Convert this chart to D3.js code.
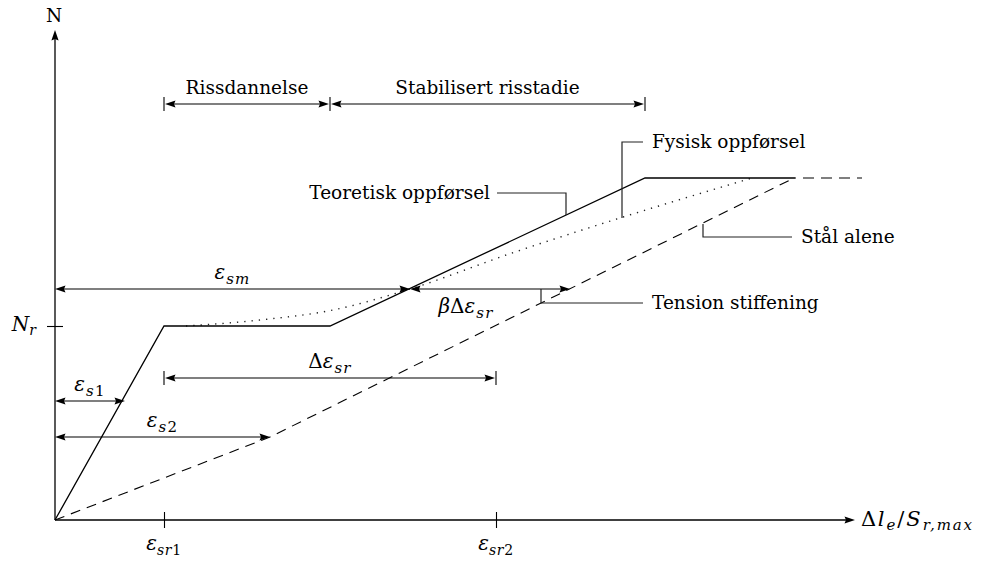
<!DOCTYPE html>
<html><head><meta charset="utf-8">
<script src="https://cdn.jsdelivr.net/npm/d3@7"></script>
<style>
body{margin:0;background:#fff}
svg{display:block}
text{font-family:"DejaVu Serif","Liberation Serif",serif;fill:#000}
</style>
</head><body>
<svg id="c" width="987" height="569"></svg>
<script>
// ---- data (diagram units) ----
const theoretical = [[0,0],[109,194],[275,194],[590,342],[740,342]];
const steelAlone = [[0,0],[215,83],[735,340]];
const steelExtension = [[740,342],[807,342]];
const physical = [[131,194],[205,200],[278,210],[355,231],[460,268],[565,302],[697,342]];
const xTicks = [{sub:"sr1", value:109},{sub:"sr2", value:441}];
const yTicks = [{sub:"r", value:194}];
const phases = [{name:"Rissdannelse", from:109, to:275},{name:"Stabilisert risstadie", from:275, to:590}];
const phaseLevel = 416;
const dims = [
  {sub:"sm", pre:"", from:0, to:355, level:231, bars:false, below:false},
  {sub:"sr", pre:"βΔ", from:355, to:515, level:231, bars:false, below:true},
  {sub:"sr", pre:"Δ", from:109, to:441, level:142, bars:true, below:false},
  {sub:"s1", pre:"", from:0, to:70, level:119, bars:false, below:false},
  {sub:"s2", pre:"", from:0, to:215, level:83, bars:false, below:false}
];
const callouts = [
  {text:"Teoretisk oppførsel", at:[511,305], dy:-22, dx:-69, side:"left"},
  {text:"Fysisk oppførsel", at:[567,302], dy:-76, dx:21, side:"right"},
  {text:"Stål alene", at:[648,296], dy:13, dx:89, side:"right"},
  {text:"Tension stiffening", at:[486,231], dy:14, dx:102, side:"right"}
];

// ---- scales ----
const svg = d3.select("#c");
const x = d3.scaleLinear().domain([0,800]).range([55,855]);
const y = d3.scaleLinear().domain([0,490]).range([520,30]);
const FS = 18.5, MFS = 20, SFS = 15;

function arrowHead(g, tx, ty, dir){
  let p;
  if(dir==='up') p = `M${tx},${ty} L${tx-3.6},${ty+10.5} L${tx},${ty+9} L${tx+3.6},${ty+10.5} Z`;
  else p = `M${tx},${ty} L${tx-dir*10.5},${ty-3.6} L${tx-dir*9},${ty} L${tx-dir*10.5},${ty+3.6} Z`;
  g.append("path").attr("d",p).attr("fill","#000");
}
function subText(t, s){
  const parts = s.match(/[a-z,]+|\d+/g);
  parts.forEach(p=>t.append("tspan").style("font-style",/\d/.test(p)?"normal":"italic").text(p));
}
function math(g, px, py, pre, main, sub, anchor){
  const t = g.append("text").attr("x",px).attr("y",py).attr("text-anchor",anchor||"middle").style("font-size",MFS+"px");
  if(pre){
    for(const ch of pre){
      t.append("tspan").style("font-style", ch==="β"?"italic":"normal").text(ch);
    }
  }
  t.append("tspan").style("font-style","italic").style("letter-spacing","1px").text(main);
  if(sub){
    const s = t.append("tspan").attr("dy",5).style("font-size",SFS+"px").style("letter-spacing","1.2px");
    subText(s, sub);
  }
  return t;
}

// ---- axes ----
const ax = svg.append("g");
ax.append("line").attr("x1",x(0)).attr("y1",y(0)).attr("x2",x(800)-8).attr("y2",y(0)).attr("stroke","#000").attr("stroke-width",1.3);
arrowHead(ax, x(800), y(0), 1);
ax.append("line").attr("x1",x(0)).attr("y1",y(0)).attr("x2",x(0)).attr("y2",y(490)+8).attr("stroke","#000").attr("stroke-width",1.3);
arrowHead(ax, x(0), y(490), 'up');

const xAxis = d3.axisBottom(x).tickValues(xTicks.map(d=>d.value)).tickSize(16).tickFormat("");
const gx = svg.append("g").attr("transform",`translate(0,${y(0)-8})`).call(xAxis);
gx.select(".domain").remove();
gx.selectAll(".tick line").attr("stroke","#000").attr("stroke-width",1.1);
const yAxis = d3.axisLeft(y).tickValues(yTicks.map(d=>d.value)).tickSize(16).tickFormat("");
const gy = svg.append("g").attr("transform",`translate(${x(0)+8},0)`).call(yAxis);
gy.select(".domain").remove();
gy.selectAll(".tick line").attr("stroke","#000").attr("stroke-width",1.1);

xTicks.forEach(d=>{
  const t = svg.append("text").attr("x",x(d.value)).attr("y",y(0)+30).attr("text-anchor","middle").style("font-size",MFS+"px");
  t.append("tspan").style("font-style","italic").text("ε");
  const s = t.append("tspan").attr("dy",5).style("font-size","14px").style("letter-spacing","0.6px");
  subText(s, d.sub);
});
yTicks.forEach(d=>{
  const t = svg.append("text").attr("x",x(0)-19).attr("y",y(d.value)+5).attr("text-anchor","end").style("font-size","20px");
  t.append("tspan").style("font-style","italic").text("N");
  t.append("tspan").attr("dy",4).style("font-size","14px").style("font-style","italic").text(d.sub);
});
svg.append("text").attr("x",x(0)-1).attr("y",22).attr("text-anchor","middle").style("font-size",FS+"px").text("N");
{
  const t = svg.append("text").attr("x",x(800)+6).attr("y",y(0)+6).style("font-size","21px");
  t.append("tspan").style("letter-spacing","1.5px").text("Δ");
  t.append("tspan").style("font-style","italic").style("letter-spacing","2px").text("l");
  t.append("tspan").attr("dy",4).style("font-size","15px").style("font-style","italic").style("letter-spacing","2px").text("e");
  t.append("tspan").attr("dy",-4).style("letter-spacing","2px").text("/");
  t.append("tspan").style("font-style","italic").style("letter-spacing","2px").text("S");
  t.append("tspan").attr("dy",4).style("font-size","15px").style("font-style","italic").style("letter-spacing","1.8px").text("r,max");
}

// ---- curves ----
const line = d3.line().x(d=>x(d[0])).y(d=>y(d[1]));
svg.append("path").attr("d",line(steelAlone)).attr("fill","none").attr("stroke","#000").attr("stroke-width",1.1).attr("stroke-dasharray","10,7");
svg.append("path").attr("d",line(steelExtension)).attr("fill","none").attr("stroke","#000").attr("stroke-width",1.1).attr("stroke-dasharray","11,7").attr("stroke-dashoffset",-8);
svg.append("path").attr("d",d3.line().x(d=>x(d[0])).y(d=>y(d[1])).curve(d3.curveMonotoneX)(physical))
  .attr("fill","none").attr("stroke","#222").attr("stroke-width",1.4).attr("stroke-dasharray","1.3,6");
svg.append("path").attr("d",line(theoretical)).attr("fill","none").attr("stroke","#000").attr("stroke-width",1.3);

// ---- phase dimension arrows ----
const py0 = y(phaseLevel);
const bnds = [phases[0].from, ...phases.map(p=>p.to)];
bnds.forEach(b=>svg.append("line").attr("x1",x(b)).attr("x2",x(b)).attr("y1",py0-7).attr("y2",py0+7).attr("stroke","#000").attr("stroke-width",1.1));
phases.forEach(p=>{
  const a = x(p.from)+1, b = x(p.to)-1;
  svg.append("line").attr("x1",a+8).attr("x2",b-8).attr("y1",py0).attr("y2",py0).attr("stroke","#000").attr("stroke-width",1.2);
  arrowHead(svg,a,py0,-1); arrowHead(svg,b,py0,1);
  svg.append("text").attr("x",(x(p.from)+x(p.to))/2).attr("y",py0-10).attr("text-anchor","middle").style("font-size",FS+"px").text(p.name);
});

// ---- measurement arrows ----
dims.forEach(d=>{
  const a = x(d.from), b = x(d.to), yy = y(d.level);
  svg.append("line").attr("x1",a+8).attr("x2",b-8).attr("y1",yy).attr("y2",yy).attr("stroke","#000").attr("stroke-width",1.2);
  arrowHead(svg,a+(d.bars?1:0),yy,-1); arrowHead(svg,b-(d.bars?1:0),yy,1);
  if(d.bars){
    [a,b].forEach(v=>svg.append("line").attr("x1",v).attr("x2",v).attr("y1",yy-7).attr("y2",yy+7).attr("stroke","#000").attr("stroke-width",1.1));
  }
  const cx = d.below ? a + (b-a)*0.35 : (a+b)/2;
  math(svg, cx, d.below ? yy+24 : yy-10, d.pre, "ε", d.sub, "middle");
});

// ---- callouts ----
callouts.forEach(c=>{
  const ax0 = x(c.at[0]), ay0 = y(c.at[1]);
  const ay1 = ay0 + c.dy, ax1 = ax0 + c.dx;
  svg.append("path").attr("d",`M${ax0},${ay0} L${ax0},${ay1} L${ax1},${ay1}`).attr("fill","none").attr("stroke","#222").attr("stroke-width",1.2);
  svg.append("text").attr("x", c.side==="left" ? ax1-7 : ax1+9).attr("y",ay1+6)
    .attr("text-anchor", c.side==="left"?"end":"start").style("font-size",FS+"px").text(c.text);
});
</script>
</body></html>
